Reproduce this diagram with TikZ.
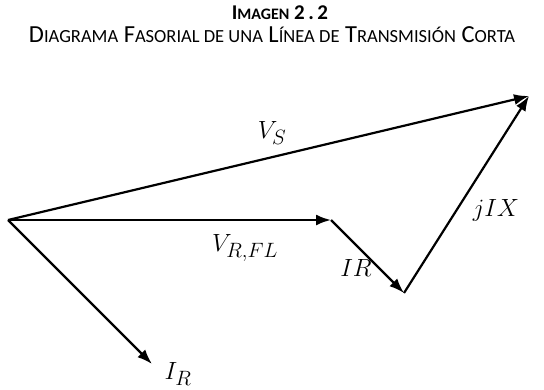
\documentclass[tikz,border=0pt]{standalone}
\usepackage{fontspec}
\setmainfont{Carlito}
\usetikzlibrary{arrows.meta}
\newcommand{\fsc}[1]{{\fontsize{18.5}{21}\selectfont #1}}
\begin{document}
\begin{tikzpicture}[x=1pt,y=-1pt,
  vec/.style={line width=2.2pt,-{Latex[length=15pt,width=11pt]}},
  lab/.style={font=\fontsize{28}{32}\selectfont}]
\useasboundingbox (0,0) rectangle (544,389);
\node (title) at (280,13) {\fontsize{21}{24}\selectfont\bfseries I{\fontsize{16}{19}\selectfont MAGEN}~2\,.\,2};
\node (sub) at (272,35) {\fontsize{24.5}{28}\selectfont D\fsc{IAGRAMA} F\fsc{ASORIAL DE UNA} L\fsc{ÍNEA DE} T\fsc{RANSMISIÓN} C\fsc{ORTA}};
\coordinate (O) at (8,220);
\coordinate (VR) at (331,220);
\coordinate (IRt) at (404,293);
\coordinate (VS) at (529,96);
\coordinate (Ir) at (152,364);
\draw[vec] (O) -- (VR);
\draw[vec] (VR) -- (IRt);
\draw[vec] (IRt) -- (VS);
\draw[vec] (O) -- (VS);
\draw[vec] (O) -- (Ir);
\node[lab] (lVS) at (272,133) {$V_S$};
\node[lab] (lVR) at (245,248) {$V_{R,FL}$};
\node[lab] (lIR) at (356,268) {$IR$};
\node[lab] (ljIX) at (496,210) {$jIX$};
\node[lab] (lIr) at (178,374) {$I_R$};
\end{tikzpicture}
\end{document}
